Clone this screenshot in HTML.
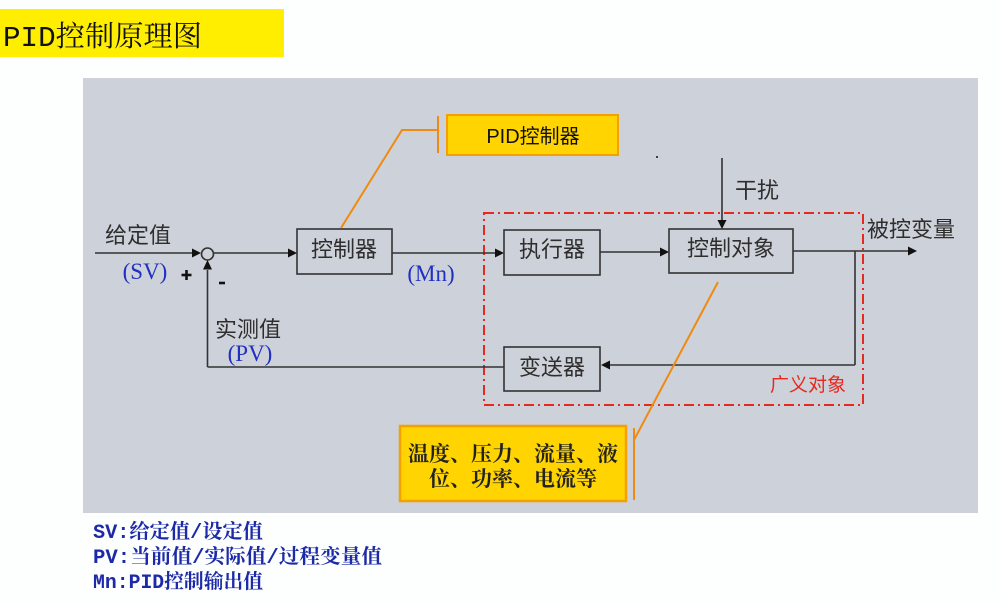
<!DOCTYPE html>
<html><head><meta charset="utf-8"><style>
html,body{margin:0;padding:0;background:#fff;}
svg{display:block;}
.s{font-family:"Liberation Sans","Noto Sans CJK SC",sans-serif;}
.m{font-family:"Liberation Mono","Noto Serif CJK SC",monospace;}
.sf{font-family:"Liberation Serif","Noto Serif CJK SC",serif;}
</style></head><body>
<svg width="1000" height="603" viewBox="0 0 1000 603" xmlns="http://www.w3.org/2000/svg">
<rect width="1000" height="603" fill="#fdfefe"/>
<!-- title -->
<rect x="0" y="9" width="284" height="48" fill="#ffee00"/>
<text x="3" y="46" class="m" font-size="29" fill="#111" textLength="199" lengthAdjust="spacingAndGlyphs">PID控制原理图</text>
<!-- panel -->
<rect x="83" y="78" width="895" height="435" fill="#cdd1d9"/>
<!-- red dash-dot box -->
<rect x="484" y="213" width="379" height="192" fill="none" stroke="#e8281e" stroke-width="2" stroke-dasharray="10 4 2 4"/>
<text x="770" y="391" class="s" font-size="19" fill="#e8281e">广义对象</text>
<g stroke="#333" stroke-width="1.6" fill="none">
<rect x="297" y="229" width="95" height="45"/>
<rect x="504" y="230" width="96" height="45"/>
<rect x="669" y="229" width="124" height="44"/>
<rect x="504" y="347" width="96" height="44"/>
<line x1="95" y1="253" x2="194" y2="253"/>
<circle cx="207.5" cy="254" r="6" fill="#cdd1d9"/>
<line x1="213.5" y1="253" x2="288" y2="253"/>
<line x1="392" y1="253" x2="495" y2="253"/>
<line x1="600" y1="252" x2="660" y2="252"/>
<line x1="793" y1="251" x2="908" y2="251"/>
<line x1="855" y1="251" x2="855" y2="365"/>
<line x1="855" y1="365" x2="610" y2="365"/>
<line x1="504" y1="367" x2="207.5" y2="367"/>
<line x1="207.5" y1="367" x2="207.5" y2="270"/>
<line x1="722" y1="158" x2="722" y2="220"/>
<line x1="181.5" y1="275" x2="191.5" y2="275" stroke-width="2.6" stroke="#111"/>
<line x1="186.5" y1="270" x2="186.5" y2="280" stroke-width="2.6" stroke="#111"/>
<line x1="219" y1="283" x2="225" y2="283" stroke-width="2.6" stroke="#111"/>
</g>
<g fill="#111">
<polygon points="201,253 192,248.5 192,257.5"/>
<polygon points="297,253 288,248.5 288,257.5"/>
<polygon points="504,253 495,248.5 495,257.5"/>
<polygon points="669,252 660,247.5 660,256.5"/>
<polygon points="917,251 908,246.5 908,255.5"/>
<polygon points="601,365 610,360.5 610,369.5"/>
<polygon points="207.5,260 203,269.5 212,269.5"/>
<polygon points="722,229 717.5,220 726.5,220"/>
<circle cx="657" cy="157" r="1"/>
</g>
<g class="s" font-size="22" fill="#2e2e2e">
<text x="105" y="243">给定值</text>
<text x="344" y="257" text-anchor="middle">控制器</text>
<text x="552" y="257" text-anchor="middle">执行器</text>
<text x="731" y="256" text-anchor="middle">控制对象</text>
<text x="552" y="375" text-anchor="middle">变送器</text>
<text x="735" y="198">干扰</text>
<text x="867" y="237">被控变量</text>
<text x="215" y="337">实测值</text>
</g>
<g class="sf" font-size="23" fill="#2030c0">
<text x="145" y="279" text-anchor="middle">(SV)</text>
<text x="431" y="281" text-anchor="middle">(Mn)</text>
<text x="250" y="361" text-anchor="middle">(PV)</text>
</g>
<g stroke="#f08a10" stroke-width="2" fill="none">
<polyline points="341,228 402,130 438,130"/>
<line x1="438" y1="116" x2="438" y2="153"/>
<line x1="718" y1="282" x2="634" y2="440"/>
<line x1="634" y1="428" x2="634" y2="500"/>
</g>
<rect x="447" y="115" width="171" height="40" fill="#ffd400" stroke="#f5a000" stroke-width="2"/>
<text x="533" y="143" text-anchor="middle" class="s" font-size="20" fill="#111">PID控制器</text>
<rect x="400" y="426" width="226" height="75" fill="#ffd400" stroke="#f5a000" stroke-width="2.5"/>
<g class="sf" font-size="21" fill="#222" text-anchor="middle" font-weight="bold">
<text x="513" y="461">温度、压力、流量、液</text>
<text x="513" y="486">位、功率、电流等</text>
</g>
<g class="m" font-size="20" font-weight="bold" fill="#1c2aa8">
<text x="93" y="538" textLength="170" lengthAdjust="spacingAndGlyphs">SV:给定值/设定值</text>
<text x="93" y="563" textLength="289" lengthAdjust="spacingAndGlyphs">PV:当前值/实际值/过程变量值</text>
<text x="93" y="588" textLength="170" lengthAdjust="spacingAndGlyphs">Mn:PID控制输出值</text>
</g>
</svg>
</body></html>
